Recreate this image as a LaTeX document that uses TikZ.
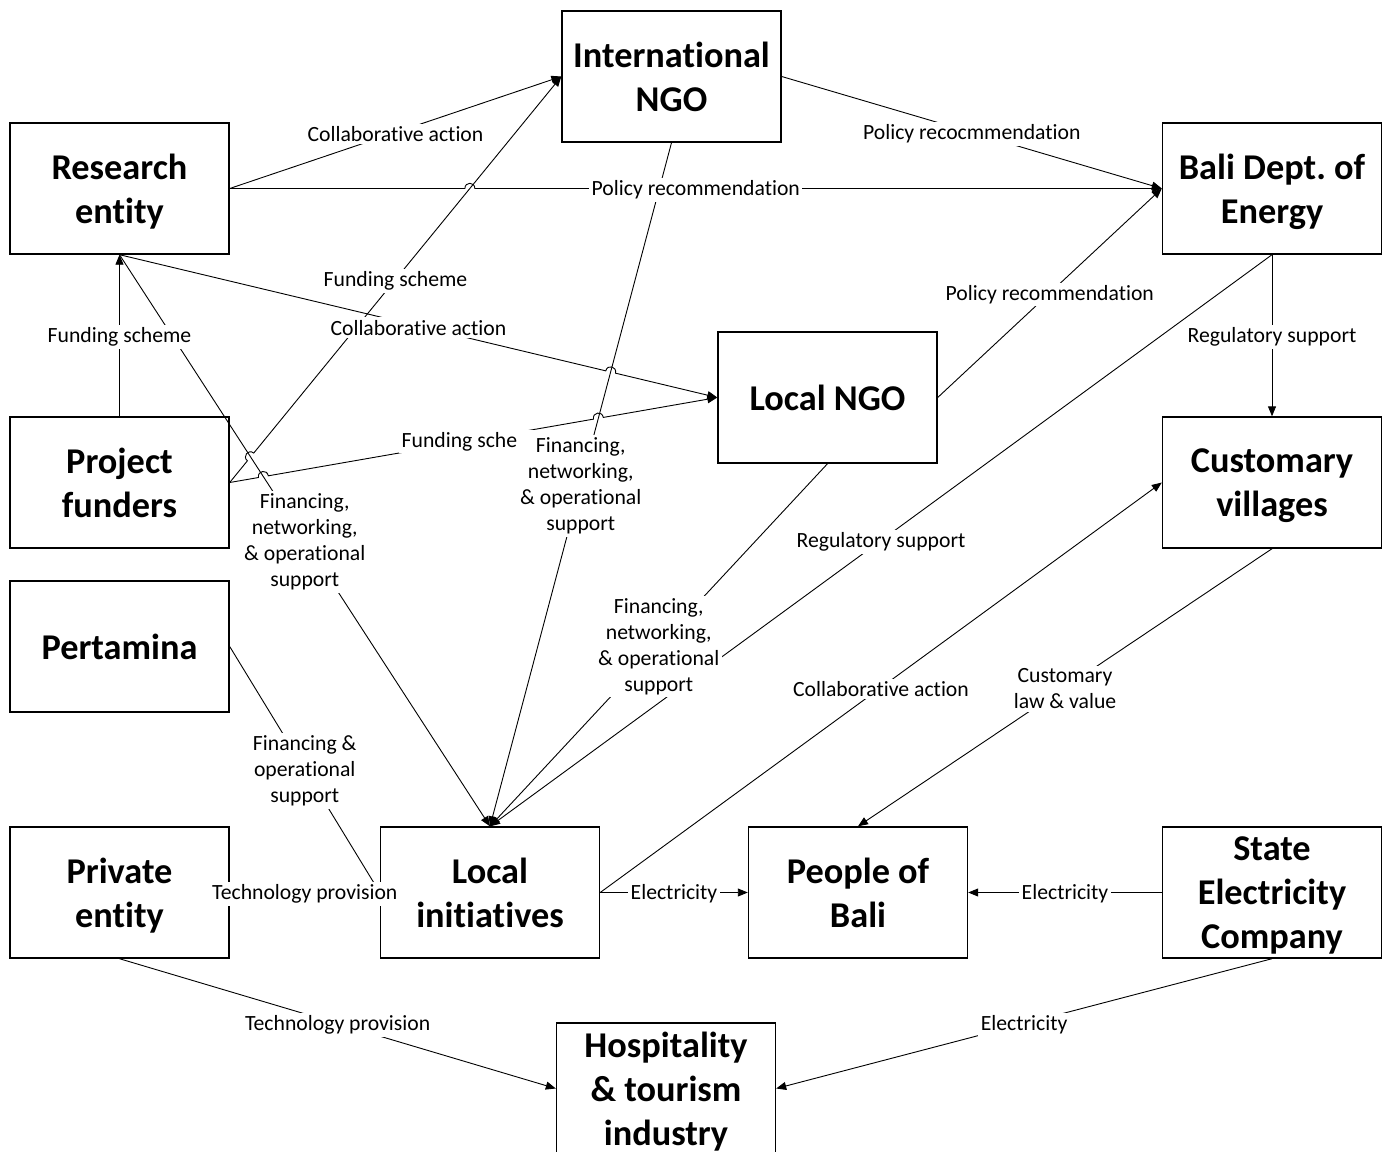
\documentclass[tikz,border=0pt]{standalone}
\usepackage{fontspec}
\setmainfont{Carlito}[Ligatures={NoCommon}]
\usetikzlibrary{arrows.meta,calc}
\newcommand{\mkhop}[4]{%
  \coordinate (#1a) at ($(#2)!5pt!(#3)$);
  \coordinate (#1b) at ($(#2)!5pt!(#4)$);
  \coordinate (#1c) at ($(#1a)!7pt!90:(#1b)$);
  \coordinate (#1d) at ($(#1b)!7pt!-90:(#1a)$);}
\begin{document}
\frenchspacing
\begin{tikzpicture}[x=1pt,y=-1pt,
  box/.style={draw, line width=1.4pt, minimum width=219pt, minimum height=131pt,
    align=center, inner sep=0pt, text depth=0pt, font=\bfseries\fontsize{36.3}{44}\selectfont},
  conn/.style={line width=0.9pt, -{Triangle[length=10pt,width=8pt]}},
  lbl/.style={fill=white, inner sep=2.5pt, align=center, yshift=-1.5pt,
    font=\fontsize{21.7}{26}\selectfont}]
\useasboundingbox (0,0) rectangle (1391,1151);
\clip (0,0) rectangle (1391,1151);

% boxes
\node[box] (ingo) at (671.5,76.5) {International\\NGO};
\node[box] (re) at (119.5,188.5) {Research\\entity};
\node[box] (bali) at (1272,188.5) {Bali Dept. of\\Energy};
\node[box] (lngo) at (827.5,397.5) {Local NGO};
\node[box] (pf) at (119.5,482.5) {Project\\funders};
\node[box] (cv) at (1272,482.5) {Customary\\villages};
\node[box] (pert) at (119.5,646.5) {Pertamina};
\node[box] (pe) at (119.5,892.5) {Private\\entity};
\node[box] (li) at (490,892.5) {Local\\initiatives};
\node[box] (pob) at (858,892.5) {People of\\Bali};
\node[box] (sec) at (1272,892.5) {State\\Electricity\\Company};
\node[box] (hosp) at (666,1088.5) {Hospitality\\\& tourism\\industry};

% crossings
\coordinate (X1) at (intersection of re.east--bali.west and pf.east--ingo.west);
\coordinate (X2) at (intersection of pf.east--ingo.west and re.south--li.north);
\coordinate (X3) at (intersection of pf.east--lngo.west and re.south--li.north);
\coordinate (X4) at (intersection of pf.east--lngo.west and ingo.south--li.north);
\coordinate (X5) at (intersection of re.south--lngo.west and ingo.south--li.north);
\mkhop{H1}{X1}{re.east}{bali.west}
\mkhop{H2}{X2}{pf.east}{ingo.west}
\mkhop{H3}{X3}{pf.east}{lngo.west}
\mkhop{H4}{X4}{pf.east}{lngo.west}
\mkhop{H5}{X5}{re.south}{lngo.west}

% straight connectors
\draw[conn] (re.east) -- (ingo.west);
\draw[conn] (ingo.east) -- (bali.west);
\draw[conn] (pf.north) -- (re.south);
\draw[conn] (ingo.south) -- (li.north);
\draw[conn] (lngo.south) -- (li.north);
\draw[conn] (lngo.east) -- (bali.west);
\draw[conn] (bali.south) -- (cv.north);
\draw[conn] (bali.south) -- (li.north);
\draw[conn] (re.south) -- (li.north);
\draw[conn] (li.east) -- (cv.west);
\draw[conn] (cv.south) -- (pob.north);
\draw[conn] (pert.east) -- (li.west);
\draw[conn] (pe.east) -- (li.west);
\draw[conn] (li.east) -- (pob.west);
\draw[conn] (sec.west) -- (pob.east);
\draw[conn] (pe.south) -- (hosp.west);
\draw[conn] (sec.south) -- (hosp.east);

% connectors with line jumps
\draw[conn] (re.east) -- (H1a) .. controls (H1c) and (H1d) .. (H1b) -- (bali.west);
\draw[conn] (pf.east) -- (H2a) .. controls (H2c) and (H2d) .. (H2b) -- (ingo.west);
\draw[conn] (pf.east) -- (H3a) .. controls (H3c) and (H3d) .. (H3b)
  -- (H4a) .. controls (H4c) and (H4d) .. (H4b) -- (lngo.west);
\draw[conn] (re.south) -- (H5a) .. controls (H5c) and (H5d) .. (H5b) -- (lngo.west);

% labels
\path (re.east) -- node[lbl]{Collaborative action} (ingo.west);
\path (re.east) -- node[lbl]{Policy recommendation} (bali.west);
\path (ingo.east) -- node[lbl]{Policy recocmmendation} (bali.west);
\path (pf.east) -- node[lbl]{Funding scheme} (ingo.west);
\path (re.south) -- node[lbl]{Collaborative action} (lngo.west);
\path (pf.north) -- node[lbl]{Funding scheme} (re.south);
\path (pf.east) -- node[lbl]{Funding scheme} (lngo.west);
\path (re.south) -- node[lbl]{Financing,\\networking,\\\& operational\\support} (li.north);
\path (ingo.south) -- node[lbl]{Financing,\\networking,\\\& operational\\support} (li.north);
\path (lngo.south) -- node[lbl]{Financing,\\networking,\\\& operational\\support} (li.north);
\path (lngo.east) -- node[lbl]{Policy recommendation} (bali.west);
\path (bali.south) -- node[lbl]{Regulatory support} (cv.north);
\path (bali.south) -- node[lbl]{Regulatory support} (li.north);
\path (li.east) -- node[lbl]{Collaborative action} (cv.west);
\path (cv.south) -- node[lbl]{Customary\\law \& value} (pob.north);
\path (pert.east) -- node[lbl]{Financing \&\\operational\\support} (li.west);
\path (pe.east) -- node[lbl]{Technology provision} (li.west);
\path (li.east) -- node[lbl]{Electricity} (pob.west);
\path (sec.west) -- node[lbl]{Electricity} (pob.east);
\path (pe.south) -- node[lbl]{Technology provision} (hosp.west);
\path (sec.south) -- node[lbl]{Electricity} (hosp.east);
\end{tikzpicture}
\end{document}
